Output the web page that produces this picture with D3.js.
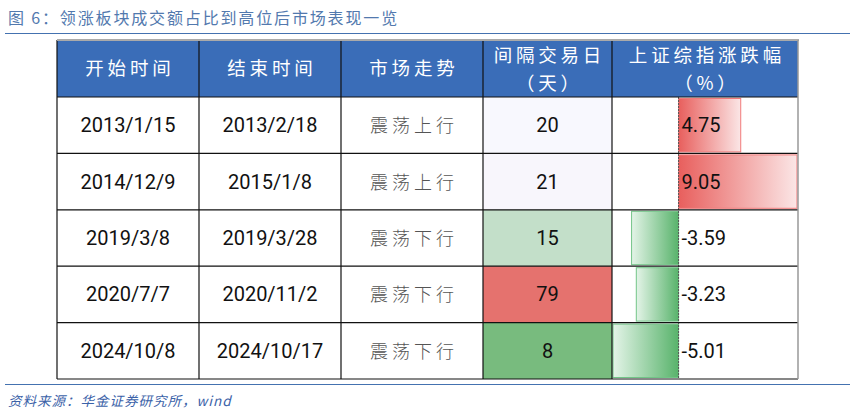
<!DOCTYPE html>
<html>
<head>
<meta charset="utf-8">
<script src="https://cdn.jsdelivr.net/npm/d3@7"></script>
<style>
  html, body { margin: 0; padding: 0; background: #fff; }
  svg { display: block; }
</style>
</head>
<body>
<div id="chart"></div>
<script>
const title = '图 6：领涨板块成交额占比到高位后市场表现一览'
const source = '资料来源：华金证券研究所，wind'
const headers = [['开始时间'], ['结束时间'], ['市场走势'], ['间隔交易日', '（天）'], ['上证综指涨跌幅', '（%）']]
const startDates = ['2013/1/15', '2014/12/9', '2019/3/8', '2020/7/7', '2024/10/8']
const endDates = ['2013/2/18', '2015/1/8', '2019/3/28', '2020/11/2', '2024/10/17']
const trends = ['震荡上行', '震荡上行', '震荡下行', '震荡下行', '震荡下行']
const tradingDays = [20, 21, 15, 79, 8]
const indexChange = [4.75, 9.05, -3.59, -3.23, -5.01]

const width = 856
const height = 409
const colWidths = [142, 142, 142, 129, 186]
const tableLeft = 57
const tableTop = 40
const headerBottom = 97
const tableBottom = 379

const svg = d3.select('#chart')
  .append('svg')
  .attr('width', width)
  .attr('height', height)

const colEdges = colWidths.reduce((acc, w) => { acc.push(acc[acc.length - 1] + w); return acc }, [tableLeft])
const tableRight = colEdges[colEdges.length - 1]

const y = d3.scaleBand()
  .domain(d3.range(startDates.length))
  .range([headerBottom, tableBottom])

// 3-colour scale like excel: min green, median white, max red
const sorted = tradingDays.slice().sort(d3.ascending)
const heat = d3.scaleLinear()
  .domain([d3.min(tradingDays), d3.quantile(sorted, 0.5), d3.max(tradingDays)])
  .range(['#78bb7e', '#f8f8fe', '#e5726e'])

const barX = d3.scaleLinear()
  .domain(d3.extent(indexChange))
  .range([colEdges[4] + 1, colEdges[5] - 1])

// title + rules
svg.append('text')
  .attr('x', 8)
  .attr('y', 24)
  .attr('fill', '#5279ae')
  .style('font-family', '"Noto Sans CJK SC", sans-serif')
  .style('font-size', '16px')
  .style('letter-spacing', '1.85px')
  .text(title)

svg.append('line')
  .attr('x1', 5).attr('x2', 850)
  .attr('y1', 33.5).attr('y2', 33.5)
  .attr('stroke', '#4472b0')
  .attr('stroke-width', 1.2)

svg.append('line')
  .attr('x1', 5).attr('x2', 850)
  .attr('y1', 384.5).attr('y2', 384.5)
  .attr('stroke', '#4472b0')
  .attr('stroke-width', 1.2)

svg.append('text')
  .attr('x', 8)
  .attr('y', 406)
  .attr('fill', '#3b62a8')
  .style('font-family', '"Noto Sans CJK SC", sans-serif')
  .style('font-size', '13.5px')
  .style('font-style', 'italic')
  .style('letter-spacing', '1px')
  .text(source)

// gradients
const defs = svg.append('defs')
const redGrad = defs.append('linearGradient').attr('id', 'redGrad')
redGrad.append('stop').attr('offset', '0%').attr('stop-color', '#e85f5d')
redGrad.append('stop').attr('offset', '100%').attr('stop-color', '#fbe6e6')
const greenGrad = defs.append('linearGradient').attr('id', 'greenGrad')
greenGrad.append('stop').attr('offset', '0%').attr('stop-color', '#e4f4e8')
greenGrad.append('stop').attr('offset', '100%').attr('stop-color', '#58b36b')

// header
svg.append('rect')
  .attr('x', tableLeft).attr('y', tableTop)
  .attr('width', tableRight - tableLeft)
  .attr('height', headerBottom - tableTop)
  .attr('fill', '#3a6db8')

headers.forEach((lines, i) => {
  const cx = (colEdges[i] + colEdges[i + 1]) / 2
  const cy = (tableTop + headerBottom) / 2
  const t = svg.append('text')
    .attr('text-anchor', 'middle')
    .attr('fill', '#fff')
    .style('font-family', '"Noto Sans CJK SC", sans-serif')
    .style('font-size', '18.5px')
    .style('letter-spacing', '3.8px')
  lines.forEach((s, k) => {
    const off = lines.length === 1 ? 0 : (k === 0 ? -13 : 15)
    t.append('tspan')
      .attr('x', cx + 1.9)
      .attr('y', cy + off + 6.5)
      .text(s)
  })
})

// body cells
const rows = svg.append('g')
  .selectAll('g')
  .data(d3.range(startDates.length))
  .join('g')

rows.append('rect')
  .attr('x', colEdges[3])
  .attr('y', (d) => y(d))
  .attr('width', colWidths[3])
  .attr('height', y.bandwidth())
  .attr('fill', (d) => heat(tradingDays[d]))

const numStyle = (sel) => sel
  .attr('fill', '#111')
  .style('font-family', 'Roboto, sans-serif')
  .style('font-size', '20px')

rows.append('text')
  .attr('x', (colEdges[0] + colEdges[1]) / 2)
  .attr('y', (d) => y(d) + y.bandwidth() / 2 + 7)
  .attr('text-anchor', 'middle')
  .call(numStyle)
  .text((d) => startDates[d])

rows.append('text')
  .attr('x', (colEdges[1] + colEdges[2]) / 2)
  .attr('y', (d) => y(d) + y.bandwidth() / 2 + 7)
  .attr('text-anchor', 'middle')
  .call(numStyle)
  .text((d) => endDates[d])

rows.append('text')
  .attr('x', (colEdges[2] + colEdges[3]) / 2 + 2)
  .attr('y', (d) => y(d) + y.bandwidth() / 2 + 7)
  .attr('text-anchor', 'middle')
  .attr('fill', '#555')
  .style('font-family', '"Noto Sans CJK SC", sans-serif')
  .style('font-weight', 300)
  .style('font-size', '18px')
  .style('letter-spacing', '4px')
  .text((d) => trends[d])

rows.append('text')
  .attr('x', (colEdges[3] + colEdges[4]) / 2)
  .attr('y', (d) => y(d) + y.bandwidth() / 2 + 7)
  .attr('text-anchor', 'middle')
  .call(numStyle)
  .text((d) => tradingDays[d])

// data bars
rows.append('rect')
  .attr('x', (d) => Math.min(barX(0), barX(indexChange[d])))
  .attr('y', (d) => y(d) + 1.5)
  .attr('width', (d) => Math.abs(barX(indexChange[d]) - barX(0)))
  .attr('height', y.bandwidth() - 3)
  .attr('fill', (d) => indexChange[d] >= 0 ? 'url(#redGrad)' : 'url(#greenGrad)')
  .attr('stroke', (d) => indexChange[d] >= 0 ? '#f07a7a' : '#72c487')
  .attr('stroke-width', 1)

svg.append('line')
  .attr('x1', barX(0)).attr('x2', barX(0))
  .attr('y1', headerBottom).attr('y2', tableBottom)
  .attr('stroke', '#555')
  .attr('stroke-dasharray', '2,1')

rows.append('text')
  .attr('x', barX(0) + 3)
  .attr('y', (d) => y(d) + y.bandwidth() / 2 + 7)
  .call(numStyle)
  .text((d) => indexChange[d])

// grid
const grid = svg.append('g')
  .attr('stroke', '#111')
  .attr('stroke-width', 1.2)
  .attr('fill', 'none')

y.domain().forEach((d) => {
  grid.append('line')
    .attr('x1', tableLeft).attr('x2', tableRight)
    .attr('y1', y(d) + y.bandwidth()).attr('y2', y(d) + y.bandwidth())
})
grid.append('line')
  .attr('x1', tableLeft).attr('x2', tableRight)
  .attr('y1', headerBottom).attr('y2', headerBottom)

colEdges.slice(0, -1).forEach((x) => {
  grid.append('line')
    .attr('x1', x).attr('x2', x)
    .attr('y1', tableTop).attr('y2', tableBottom)
})

svg.append('line')
  .attr('x1', tableLeft).attr('x2', tableRight + 1)
  .attr('y1', tableTop).attr('y2', tableTop)
  .attr('stroke', '#aaa').attr('stroke-width', 2)
svg.append('line')
  .attr('x1', tableRight).attr('x2', tableRight)
  .attr('y1', tableTop).attr('y2', tableBottom)
  .attr('stroke', '#999').attr('stroke-width', 1.5)
</script>
</body>
</html>
